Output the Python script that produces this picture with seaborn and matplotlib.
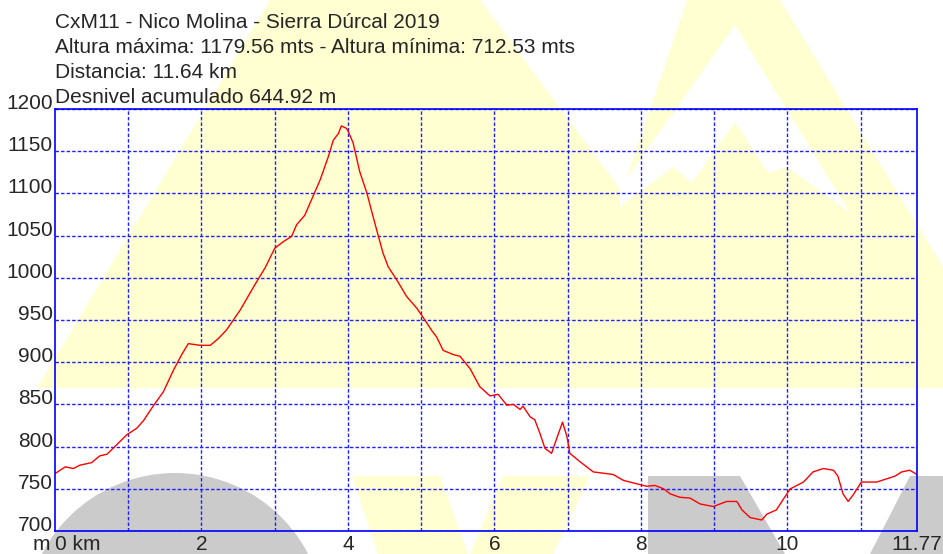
import matplotlib
matplotlib.use("Agg")
import matplotlib.pyplot as plt
import matplotlib.patches as mpatches
from matplotlib.transforms import Affine2D, blended_transform_factory
import seaborn as sns

# Elevation profile (distance in km, altitude in m)
dist_km = [0.00, 0.14, 0.25, 0.34, 0.50, 0.61, 0.71, 0.84, 0.98, 1.12,
           1.21, 1.34, 1.48, 1.62, 1.73, 1.82, 1.98, 2.12, 2.23, 2.34,
           2.53, 2.73, 2.87, 3.00, 3.12, 3.23, 3.30, 3.41, 3.50, 3.62,
           3.73, 3.80, 3.87, 3.91, 3.98, 4.00, 4.07, 4.16, 4.26, 4.32,
           4.41, 4.48, 4.55, 4.67, 4.80, 4.94, 5.05, 5.14, 5.21, 5.30,
           5.44, 5.53, 5.67, 5.80, 5.94, 6.05, 6.17, 6.26, 6.35, 6.39,
           6.49, 6.55, 6.62, 6.69, 6.78, 6.86, 6.93, 6.99, 7.03, 7.17,
           7.35, 7.53, 7.62, 7.76, 7.94, 8.08, 8.19, 8.31, 8.40, 8.53,
           8.67, 8.81, 8.99, 9.17, 9.31, 9.38, 9.49, 9.65, 9.72, 9.85,
           9.97, 10.04, 10.22, 10.35, 10.49, 10.63, 10.69, 10.76, 10.83, 10.90,
           11.01, 11.22, 11.47, 11.56, 11.67, 11.77]
alt_m = [768, 776, 774, 778, 781, 789, 791, 802, 814, 822,
         831, 848, 865, 891, 909, 922, 920, 920, 928, 938,
         962, 992, 1012, 1035, 1043, 1049, 1063, 1074, 1092, 1116,
         1143, 1163, 1171, 1180, 1177, 1174, 1160, 1126, 1100, 1080,
         1051, 1029, 1013, 997, 978, 964, 950, 938, 930, 914,
         909, 907, 892, 871, 860, 862, 849, 850, 844, 848,
         835, 832, 816, 798, 792, 812, 829, 812, 792, 782,
         770, 768, 767, 760, 756, 753, 754, 750, 744, 740,
         739, 732, 729, 735, 735, 725, 716, 713, 720, 725,
         741, 750, 758, 770, 774, 772, 765, 744, 735, 743,
         758, 758, 765, 770, 772, 767]

header_lines = [
    "CxM11 - Nico Molina - Sierra Dúrcal 2019",
    "Altura máxima: 1179.56 mts - Altura mínima: 712.53 mts",
    "Distancia: 11.64 km",
    "Desnivel acumulado 644.92 m",
]
y_ticks = list(range(700, 1201, 50))
x_grid = list(range(1, 12))
x_label_pos = [2, 4, 6, 8, 10, 11.77]
x_label_txt = ["2", "4", "6", "8", "10", "11.77"]

sns.set_style("white")
plt.rcParams["font.family"] = ["Liberation Sans", "DejaVu Sans"]
FS = 15

W, H = 943, 554
fig = plt.figure(figsize=(W / 100, H / 100), dpi=100, facecolor="white")
ax = fig.add_axes([55 / W, 1 - 531 / H, 862 / W, 422 / H])
ax.set_facecolor("none")

# background logo watermark, in pixel coords (origin top-left)
px = Affine2D().scale(1 / W, -1 / H).translate(0, 1) + fig.transFigure
yellow = "#FFFFD2"
gray = "#CBCBCB"


def shape(pts, color, z=-5):
    fig.add_artist(mpatches.Polygon(pts, closed=True, transform=px,
                                    facecolor=color, edgecolor="none", zorder=z))


shape([(37, 388), (270, 0), (480, 0), (622, 192), (687, 0), (780, 0),
       (943, 267), (943, 388)], yellow)
shape([(735, 25), (620, 188), (620, 207), (673, 167), (692, 183), (735, 122),
       (768, 173), (787, 167), (850, 213)], "white", z=-4)
shape([(352, 476), (440, 476), (468, 554), (378, 554)], yellow)
shape([(503, 476), (590, 476), (553, 554), (470, 554)], yellow)
shape([(648, 476), (740, 476), (785, 554), (648, 554)], gray)
shape([(910, 476), (943, 476), (943, 554), (870, 554)], gray)
fig.add_artist(mpatches.Circle((175, 623), 150, transform=px,
                               facecolor=gray, edgecolor="none", zorder=-5))

sns.lineplot(x=dist_km, y=alt_m, ax=ax, color="red", lw=1.0,
             estimator=None, sort=False)

ax.set_xlim(0, 11.77)
ax.set_ylim(700, 1200)
ax.set_xticks(x_grid)
ax.set_yticks(y_ticks)
ax.set_yticklabels([str(v) for v in y_ticks], fontsize=FS)
ax.grid(True, color="#2020FF", ls=(0, (2.5, 1.5)), lw=1.0)
ax.set_axisbelow(True)
ax.tick_params(length=0, labelbottom=False, pad=1.5)
plt.setp(ax.get_yticklabels(), va="baseline")
for s in ax.spines.values():
    s.set_color("blue")
    s.set_linewidth(1.2)
ax.set_xlabel("")
ax.set_ylabel("")

# x labels below the axis
lab_y = 1 - 550 / H
trans = blended_transform_factory(ax.transData, fig.transFigure)
for pos, txt in zip(x_label_pos, x_label_txt):
    ax.text(pos, lab_y, txt, transform=trans, ha="center", va="baseline", fontsize=FS)
ax.text(0, lab_y, "0 km", transform=trans, ha="left", va="baseline", fontsize=FS)
fig.text(33 / W, lab_y, "m", ha="left", va="baseline", fontsize=FS)

# header text
for i, line in enumerate(header_lines):
    fig.text(55 / W, 1 - (28 + 25 * i) / H, line, ha="left", va="baseline", fontsize=FS)

fig.savefig("out.png", dpi=100)
